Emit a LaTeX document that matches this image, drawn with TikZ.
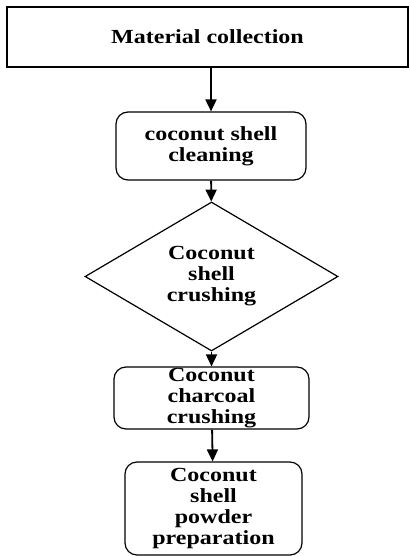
\documentclass[tikz,border=0pt]{standalone}
\usepackage{fontspec}
\setmainfont{Liberation Serif}[FakeStretch=1.2]
\usetikzlibrary{shapes.geometric, arrows.meta, positioning}

\begin{document}
\begin{tikzpicture}[
    x=1pt, y=-1pt,
    every node/.style={font=\bfseries\fontsize{20}{21}\selectfont, align=center, inner sep=0pt},
    stepbox/.style={rectangle, draw=black, line width=1.2pt, minimum width=#1},
    stepbox/.default=190pt,
    roundbox/.style={stepbox=#1, rounded corners=12pt},
    roundbox/.default=190pt,
    decision/.style={diamond, draw=black, line width=1.2pt, minimum width=253pt, minimum height=103pt},
    flow/.style={-{Triangle[length=12pt,width=11pt]}, line width=1.8pt}
]
\useasboundingbox (0,0) rectangle (409,556);

% process steps
\node[stepbox=401pt, minimum height=60pt] at (207.5,37) (collect) {Material collection};
\node[roundbox=190pt, minimum height=68pt] at (211,146) (clean) {coconut shell\\cleaning};
\node[decision] at (211.5,276.5) (crush) {Coconut\\shell\\crushing};
\node[roundbox=195pt, minimum height=62pt] at (211.5,398) (charcoal) {Coconut\\charcoal\\crushing};
\node[roundbox=177pt, minimum height=93pt] at (213.5,508.5) (powder) {Coconut\\shell\\powder\\preparation};

% arrows
\draw[flow] (collect.south -| clean.north) -- (clean);
\draw[flow] (clean) -- (crush);
\draw[flow] (crush) -- (charcoal);
\draw[flow] (charcoal) -- (powder);

\end{tikzpicture}
\end{document}
